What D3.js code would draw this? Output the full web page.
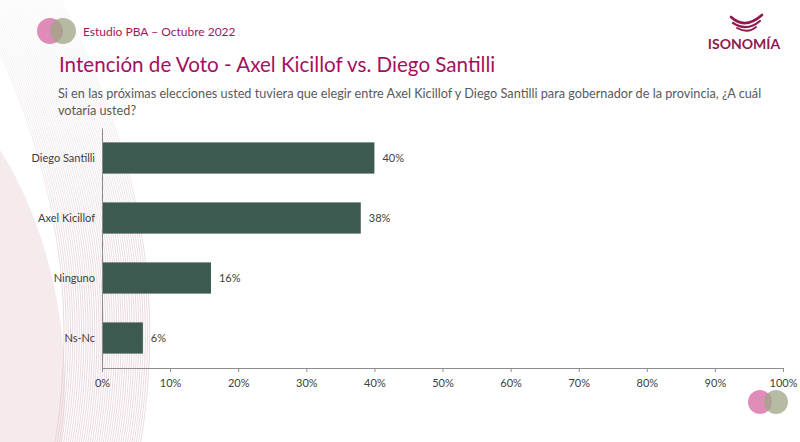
<!DOCTYPE html>
<html>
<head>
<meta charset="utf-8">
<script src="https://cdn.jsdelivr.net/npm/d3@7"></script>
<style>
  body { margin: 0; background: #fff; }
  svg { display: block; font-family: Lato, "Open Sans", sans-serif; }
</style>
</head>
<body>
<div id="chart"></div>
<script>
// data
const categories = ["Diego Santilli", "Axel Kicillof", "Ninguno", "Ns-Nc"];
const values = [40, 38, 16, 6];
const xTicks = [0, 10, 20, 30, 40, 50, 60, 70, 80, 90, 100];

const W = 800, H = 442;
const margin = {top: 128, right: 17, bottom: 74, left: 102};
const width = W - margin.left - margin.right;
const height = H - margin.top - margin.bottom;

const svg = d3.select("#chart").append("svg")
    .attr("width", W)
    .attr("height", H);

// background decoration on the left
const defs = svg.append("defs");
const grad = defs.append("linearGradient")
    .attr("id", "fade").attr("x1", 0).attr("y1", 0).attr("x2", 0).attr("y2", 1);
grad.append("stop").attr("offset", "0%").attr("stop-color", "#e4e2dc").attr("stop-opacity", 0.4);
grad.append("stop").attr("offset", "65%").attr("stop-color", "#d3b3bd").attr("stop-opacity", 0.7);
grad.append("stop").attr("offset", "100%").attr("stop-color", "#e3c8cf").attr("stop-opacity", 0.9);

const deco = svg.append("g").attr("fill", "none");
deco.append("path")
    .attr("d", "M0,150 C45,220 75,330 62,442 L0,442 Z")
    .attr("fill", "#ecd8dc").attr("opacity", 0.5);
d3.range(0, 40).forEach(function(i) {
    const x0 = -35 + i * 2.2;
    deco.append("path")
        .attr("d", "M" + (x0 + 10) + ",0 C" + (x0 + 70) + ",120 " + (x0 + 120) + ",260 " + (x0 + 90) + ",442")
        .attr("stroke", "url(#fade)")
        .attr("stroke-width", 0.7);
});

// header
const hdr = svg.append("g");
hdr.append("circle").attr("cx", 50).attr("cy", 31).attr("r", 13).attr("fill", "#d978ab").attr("opacity", 0.85);
hdr.append("circle").attr("cx", 63).attr("cy", 31).attr("r", 13).attr("fill", "#9ea585").attr("opacity", 0.75);
hdr.append("text").attr("x", 83).attr("y", 36)
    .attr("font-size", 12).attr("fill", "#a4145f")
    .text("Estudio PBA – Octubre 2022");

hdr.append("text").attr("x", 59).attr("y", 72)
    .attr("font-size", 20.6).attr("fill", "#a4105f")
    .text("Intención de Voto - Axel Kicillof vs. Diego Santilli");

hdr.append("text").attr("x", 58).attr("y", 98)
    .attr("font-size", 12.7).attr("fill", "#595959")
    .text("Si en las próximas elecciones usted tuviera que elegir entre Axel Kicillof y Diego Santilli para gobernador de la provincia, ¿A cuál");
hdr.append("text").attr("x", 58).attr("y", 115)
    .attr("font-size", 12.7).attr("fill", "#595959")
    .text("votaría usted?");

// logo
const logo = svg.append("g").attr("fill", "none").attr("stroke", "#8e1a4f").attr("stroke-linecap", "round");
logo.append("path").attr("d", "M731,17 Q745,30 762,15").attr("stroke-width", 2.6);
logo.append("path").attr("d", "M733,23 Q747,32 760,21").attr("stroke-width", 2.2);
logo.append("path").attr("d", "M737,28 Q748,34 756,27").attr("stroke-width", 1.8);
svg.append("text").attr("x", 744).attr("y", 49)
    .attr("text-anchor", "middle")
    .attr("font-size", 14).attr("font-weight", "bold").attr("fill", "#8e1a4f")
    .text("ISONOMÍA");

// footer circles
svg.append("circle").attr("cx", 760).attr("cy", 402).attr("r", 12).attr("fill", "#d978ab").attr("opacity", 0.85);
svg.append("circle").attr("cx", 776).attr("cy", 402).attr("r", 12).attr("fill", "#9ea585").attr("opacity", 0.75);

// chart
const g = svg.append("g")
    .attr("transform", "translate(" + margin.left + "," + margin.top + ")");

const x = d3.scaleLinear().domain([0, 100]).range([0, width]);
const y = d3.scaleBand().domain(categories).range([0, height]).paddingInner(0.48).paddingOuter(0.24);

g.selectAll(".bar")
    .data(values)
    .enter().append("rect")
    .attr("class", "bar")
    .attr("x", 0)
    .attr("y", function(d, i) { return y(categories[i]); })
    .attr("width", function(d) { return x(d); })
    .attr("height", y.bandwidth())
    .attr("fill", "#3c5a4f");

g.selectAll(".val")
    .data(values)
    .enter().append("text")
    .attr("class", "val")
    .attr("x", function(d) { return x(d) + 8; })
    .attr("y", function(d, i) { return y(categories[i]) + y.bandwidth() / 2; })
    .attr("dy", "0.35em")
    .attr("font-size", 11).attr("fill", "#404040")
    .text(function(d) { return d + "%"; });

const xAxis = d3.axisBottom(x)
    .tickValues(xTicks)
    .tickSize(4)
    .tickFormat(function(d) { return d + "%"; });

const xg = g.append("g")
    .attr("transform", "translate(0," + height + ")")
    .call(xAxis);
xg.select(".domain").attr("stroke", "#8c8c8c");
xg.selectAll(".tick line").attr("stroke", "#8c8c8c");
xg.selectAll(".tick text").attr("font-size", 11).attr("fill", "#404040")
    .attr("font-family", "Lato, 'Open Sans', sans-serif").attr("dy", "1.1em");

const yAxis = d3.axisLeft(y).tickSize(0).tickPadding(7);
const yg = g.append("g").call(yAxis);
yg.select(".domain").attr("stroke", "#8c8c8c");
yg.selectAll(".tick text").attr("font-size", 11).attr("fill", "#404040")
    .attr("font-family", "Lato, 'Open Sans', sans-serif");
</script>
</body>
</html>
